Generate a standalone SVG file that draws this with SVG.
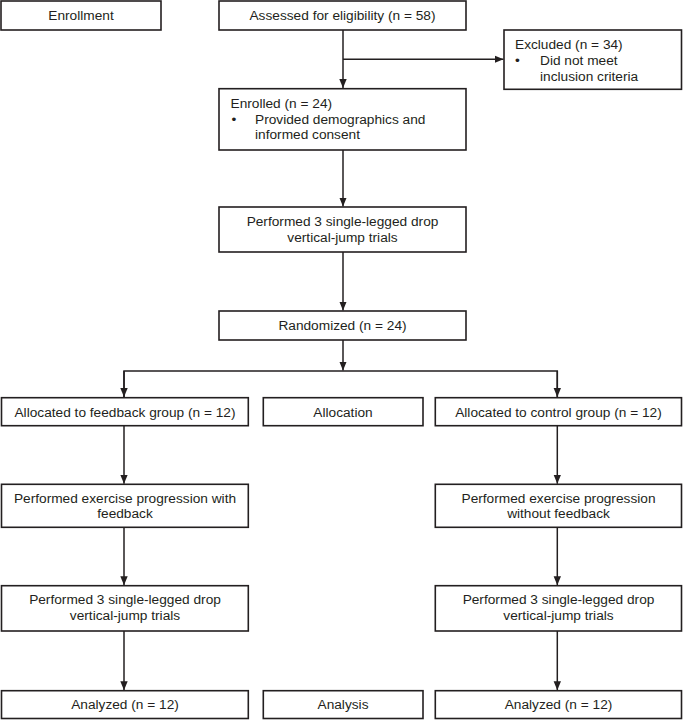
<svg xmlns="http://www.w3.org/2000/svg" width="683" height="720" viewBox="0 0 683 720">
<defs>
<style>
.box{fill:#fff;stroke:#231f20;stroke-width:1.6}
.t{font-family:"Liberation Sans",Arial,sans-serif;font-size:13.7px;fill:#231f20}
.c{text-anchor:middle}
.ln{fill:none;stroke:#231f20;stroke-width:1.5}
</style>
<marker id="ah" markerUnits="userSpaceOnUse" markerWidth="9" markerHeight="9" viewBox="0 0 9 9" refX="9" refY="4.5" orient="auto">
<path d="M0,0.8 L9,4.5 L0,8.2 Z" fill="#231f20"/>
</marker>
</defs>
<rect width="683" height="720" fill="#fff"/>
<g id="connectors">
<line class="ln" x1="343" y1="30" x2="343" y2="88" marker-end="url(#ah)"/>
<line class="ln" x1="343" y1="59.3" x2="503.5" y2="59.3" marker-end="url(#ah)"/>
<line class="ln" x1="343" y1="150" x2="343" y2="206.5" marker-end="url(#ah)"/>
<line class="ln" x1="343" y1="252" x2="343" y2="310.5" marker-end="url(#ah)"/>
<line class="ln" x1="343" y1="340" x2="343" y2="370.5" marker-end="url(#ah)"/>
<polyline class="ln" points="124,397 124,371 557.3,371 557.3,397" />
<line class="ln" x1="124" y1="371" x2="124" y2="397" marker-end="url(#ah)"/>
<line class="ln" x1="557.3" y1="371" x2="557.3" y2="397" marker-end="url(#ah)"/>
<line class="ln" x1="124" y1="426" x2="124" y2="483.8" marker-end="url(#ah)"/>
<line class="ln" x1="557.3" y1="426" x2="557.3" y2="483.8" marker-end="url(#ah)"/>
<line class="ln" x1="124" y1="527.3" x2="124" y2="585.2" marker-end="url(#ah)"/>
<line class="ln" x1="557.3" y1="527.3" x2="557.3" y2="585.2" marker-end="url(#ah)"/>
<line class="ln" x1="124" y1="631" x2="124" y2="690.2" marker-end="url(#ah)"/>
<line class="ln" x1="557.3" y1="631" x2="557.3" y2="690.2" marker-end="url(#ah)"/>
</g>
<g id="enrollment"><rect class="box" x="1" y="1" width="160" height="29"/><text class="t c" x="81" y="19.8">Enrollment</text></g>
<g id="assessed"><rect class="box" x="219" y="1" width="247" height="29"/><text class="t c" x="342.5" y="19.8">Assessed for eligibility (n = 58)</text></g>
<g id="excluded"><rect class="box" x="504" y="30" width="177.5" height="59.3"/>
<text class="t" x="515" y="48.5">Excluded (n = 34)</text>
<text class="t" x="515" y="64.5">•</text>
<text class="t" x="540" y="64.5">Did not meet</text>
<text class="t" x="540" y="80.5">inclusion criteria</text></g>
<g id="enrolled"><rect class="box" x="219" y="88.7" width="247" height="61.3"/>
<text class="t" x="230.5" y="108">Enrolled (n = 24)</text>
<text class="t" x="231.5" y="123.5">•</text>
<text class="t" x="255" y="123.5">Provided demographics and</text>
<text class="t" x="255" y="139">informed consent</text></g>
<g id="baseline-trials"><rect class="box" x="219" y="207" width="247" height="45"/>
<text class="t c" x="342.5" y="226">Performed 3 single-legged drop</text>
<text class="t c" x="342.5" y="241.7">vertical-jump trials</text></g>
<g id="randomized"><rect class="box" x="219" y="311" width="247" height="29"/><text class="t c" x="342.5" y="329.5">Randomized (n = 24)</text></g>
<g id="alloc-feedback"><rect class="box" x="1.5" y="397.7" width="246.8" height="28"/><text class="t c" x="125" y="416.7">Allocated to feedback group (n = 12)</text></g>
<g id="allocation"><rect class="box" x="263.3" y="397.7" width="159.7" height="28"/><text class="t c" x="343" y="416.7">Allocation</text></g>
<g id="alloc-control"><rect class="box" x="435.3" y="397.7" width="246.2" height="28"/><text class="t c" x="558.5" y="416.7">Allocated to control group (n = 12)</text></g>
<g id="exercise-feedback"><rect class="box" x="1.5" y="484.3" width="246.8" height="43"/>
<text class="t c" x="125" y="502.7">Performed exercise progression with</text>
<text class="t c" x="125" y="518.3">feedback</text></g>
<g id="exercise-control"><rect class="box" x="435.3" y="484.3" width="246.2" height="43"/>
<text class="t c" x="558.5" y="502.7">Performed exercise progression</text>
<text class="t c" x="558.5" y="518.3">without feedback</text></g>
<g id="post-trials-feedback"><rect class="box" x="1.5" y="585.7" width="246.8" height="45.3"/>
<text class="t c" x="125" y="604.3">Performed 3 single-legged drop</text>
<text class="t c" x="125" y="620">vertical-jump trials</text></g>
<g id="post-trials-control"><rect class="box" x="435.3" y="585.7" width="246.2" height="45.3"/>
<text class="t c" x="558.5" y="604.3">Performed 3 single-legged drop</text>
<text class="t c" x="558.5" y="620">vertical-jump trials</text></g>
<g id="analyzed-feedback"><rect class="box" x="1.5" y="690.7" width="246.8" height="27.8"/><text class="t c" x="125" y="709.3">Analyzed (n = 12)</text></g>
<g id="analysis"><rect class="box" x="263.3" y="690.7" width="159.7" height="27.8"/><text class="t c" x="343" y="709.3">Analysis</text></g>
<g id="analyzed-control"><rect class="box" x="435.3" y="690.7" width="246.2" height="27.8"/><text class="t c" x="558.5" y="709.3">Analyzed (n = 12)</text></g>
</svg>
